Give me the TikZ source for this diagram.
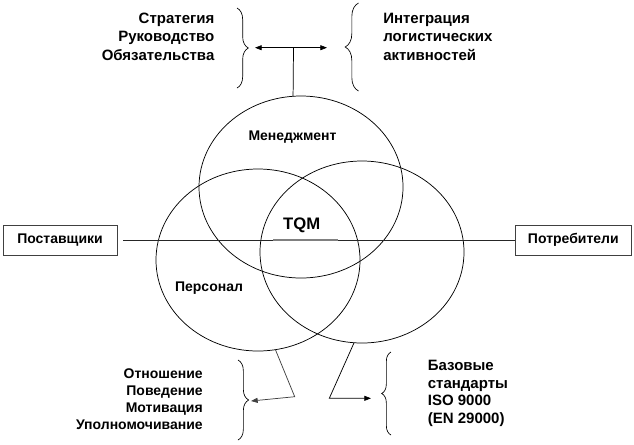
\documentclass[tikz,border=0pt]{standalone}
\usepackage{fontspec}
\setmainfont{Liberation Sans}
\usetikzlibrary{shapes.geometric,decorations.pathreplacing,arrows.meta}
\begin{document}
\begin{tikzpicture}[x=0.75pt,y=-0.75pt,
  circ/.style={ellipse,draw,line width=0.55pt,minimum width=153pt,minimum height=136.5pt,inner sep=0pt,outer sep=0pt},
  lbl/.style={font=\bfseries\fontsize{10.5}{12}\selectfont,inner sep=0pt},
  txt/.style={font=\bfseries\fontsize{11.25}{13.7}\selectfont,inner sep=0pt},
  txtb/.style={font=\bfseries\fontsize{10.5}{12.75}\selectfont,inner sep=0pt},
  txtc/.style={font=\bfseries\fontsize{11.25}{13.3}\selectfont,inner sep=0pt},
  box/.style={draw=black!75,line width=0.55pt,minimum height=22.5pt,inner sep=0pt,font=\bfseries\fontsize{10.5}{12}\selectfont},
  conn/.style={line width=0.55pt},
  brc/.style={decorate,decoration={brace,amplitude=#1},line width=0.5pt},
  tip/.style={-{Triangle[length=5pt,width=3.75pt]}}
]
\useasboundingbox (0,0) rectangle (634,444);

% ellipses
\node[circ] (T) at (301,187) {};
\node[circ] (L) at (258,260) {};
\node[circ] (R) at (362,252) {};

% labels
\node[lbl] (tm) at (292.5,136.7) {Менеджмент};
\node[lbl] (tp) at (209,288.3) {Персонал};
\node[lbl,font=\bfseries\fontsize{12.5}{14}\selectfont] (tq) at (301.7,225) {TQM};

% boxes
\node[box,minimum width=85.5pt] (sup) at (60,240) {Поставщики};
\node[box,minimum width=87.5pt] (con) at (573.3,240) {Потребители};
\draw[conn,black!85] (sup.east) ++(6,0) coordinate (s1) -- (con.west);
\coordinate (g1) at (273,240);
\coordinate (g2) at (338,240);
\draw[line width=1.5pt,black!50] (g1) -- (g2);

% top texts
\node[txt,anchor=east,align=right] (tl) at (214.6,36.7) {Стратегия\\Руководство\\Обязательства};
\node[txt,anchor=west,align=left] (tr) at (383,36.7) {Интеграция\\логистических\\активностей};
\coordinate (b1a) at (237,8);
\coordinate (b1b) at (237,88);
\draw[brc=8.5pt] (b1a) -- (b1b);
\coordinate (b2a) at (358.5,91);
\coordinate (b2b) at (358.5,3);
\draw[brc=10pt] (b2a) -- (b2b);
\coordinate (al) at (255,47.7);
\coordinate (ar) at (327,47.7);
\coordinate (am) at (293.5,47.7);
\draw[conn,{Triangle[length=5pt,width=3.75pt]}-{Triangle[length=5pt,width=3.75pt]}] (al) -- (ar);
\draw[conn] (am) -- (T.95);

% bottom texts
\node[txtb,anchor=east,align=right] (bl) at (203,398.7) {Отношение\\Поведение\\Мотивация\\Уполномочивание};
\node[txtc,anchor=west,align=left] (br) at (427.6,393.3) {Базовые\\стандарты\\ISO 9000\\(EN 29000)};
\coordinate (b3a) at (238,360);
\coordinate (b3b) at (238,440);
\draw[brc=8pt] (b3a) -- (b3b);
\coordinate (b4a) at (391,435);
\coordinate (b4b) at (391,352);
\draw[brc=7pt] (b4a) -- (b4b);
\coordinate (lk) at (294.7,396.7);
\coordinate (lt) at (251,401);
\draw[conn,black!75,tip] (L.-79) -- (lk) -- (lt);
\coordinate (rk) at (329.3,398.3);
\coordinate (rt) at (371,398.3);
\draw[conn,tip] (R.-95) -- (rk) -- (rt);
\end{tikzpicture}
\end{document}
